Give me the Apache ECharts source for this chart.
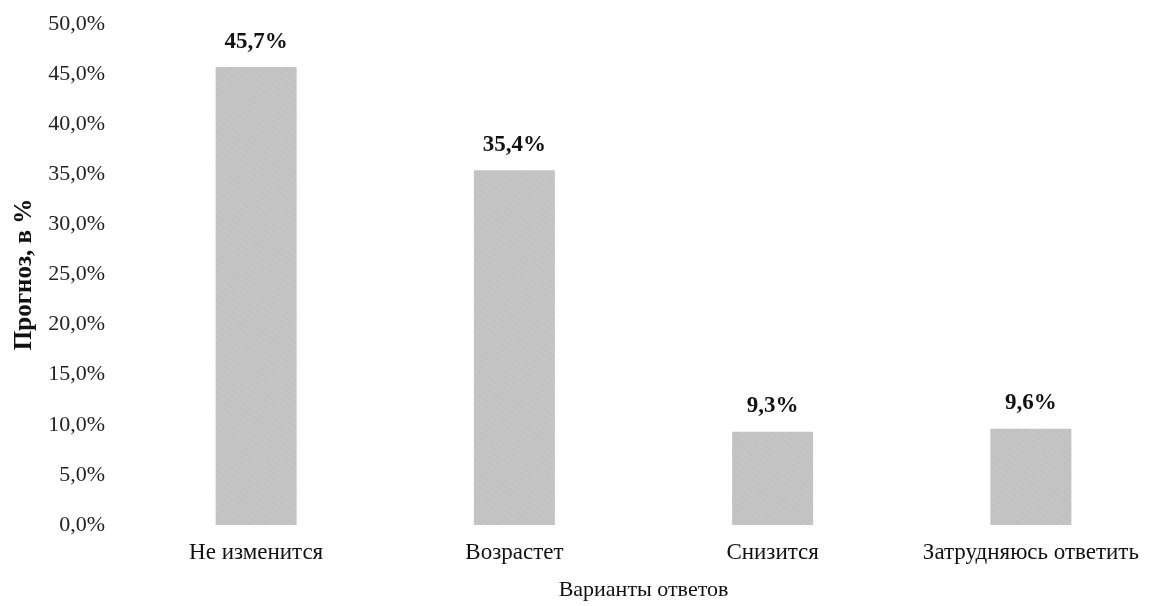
<!DOCTYPE html>
<html><head><meta charset="utf-8">
<script src="https://cdn.jsdelivr.net/npm/echarts@6/dist/echarts.min.js"></script>
<style>html,body{margin:0;padding:0;background:#fff}#c{width:1160px;height:606px}</style>
</head><body><div id="c"></div>
<script>
const categories = ['Не изменится', 'Возрастет', 'Снизится', 'Затрудняюсь ответить'];
const values = [45.7, 35.4, 9.3, 9.6];
const yTicks = { min: 0, max: 50, interval: 5 };
const xName = 'Варианты ответов';
const yName = 'Прогноз, в %';

const fmt = v => v.toFixed(1).replace('.', ',') + '%';
const chart = echarts.init(document.getElementById('c'), null, { renderer: 'canvas' });
const font = 'Liberation Serif';
chart.setOption({
  animation: false,
  textStyle: { fontFamily: font },
  grid: { left: 127, top: 24, width: 1039, height: 501 },
  xAxis: {
    type: 'category', data: categories,
    axisLine: { show: false }, axisTick: { show: false },
    axisLabel: { interval: 0, hideOverlap: false, color: '#111', fontSize: 23, fontFamily: font, margin: 16 },
    name: xName, nameLocation: 'middle', nameGap: 54,
    nameTextStyle: { color: '#111', fontSize: 22, fontFamily: font }
  },
  yAxis: {
    type: 'value', min: yTicks.min, max: yTicks.max, interval: yTicks.interval,
    axisLine: { show: false }, axisTick: { show: false }, splitLine: { show: false },
    axisLabel: { color: '#222', fontSize: 22, fontFamily: font, margin: 22, formatter: fmt },
    name: yName, nameLocation: 'middle', nameGap: 88, nameRotate: 90,
    nameTextStyle: { color: '#111', fontSize: 25, fontWeight: 'bold', fontFamily: font }
  },
  series: [{
    type: 'bar', data: values, barWidth: 81,
    itemStyle: {
      color: '#c4c4c4',
      decal: { symbol: 'rect', symbolSize: 0.5, color: 'rgba(130,130,130,0.4)', dashArrayX: [2, 2], dashArrayY: [2, 3], rotation: 0.6 }
    },
    label: { show: true, position: 'top', distance: 14, formatter: p => fmt(p.value), color: '#111', fontSize: 23, fontWeight: 'bold', fontFamily: font }
  }]
});
</script></body></html>
